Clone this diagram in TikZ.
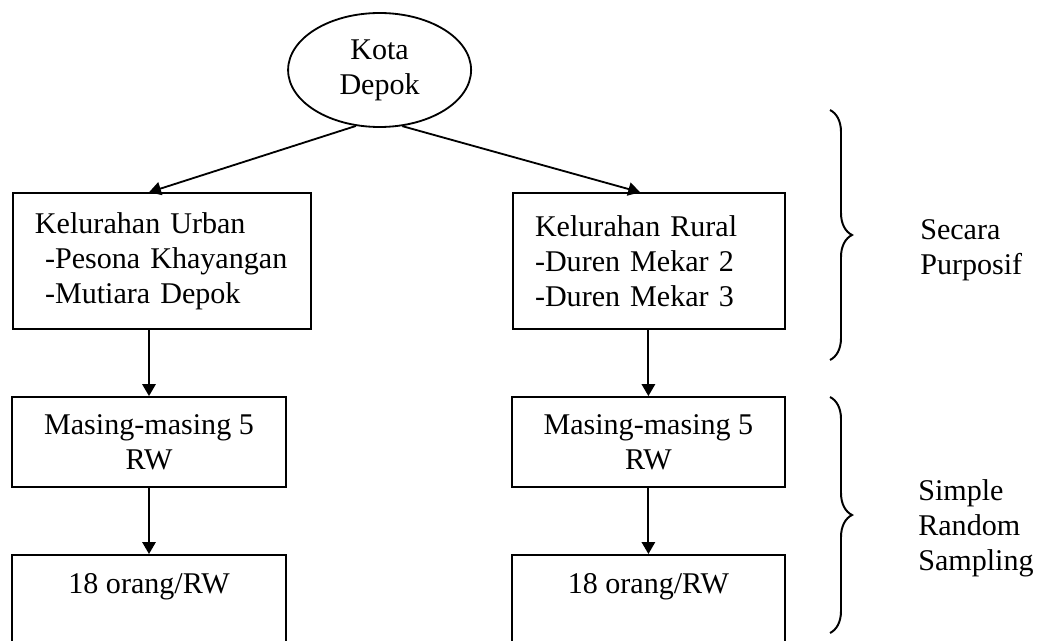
\documentclass[tikz,border=0pt]{standalone}
\usepackage{fontspec}
\setmainfont{Liberation Serif}
\usetikzlibrary{arrows.meta, shapes.geometric, decorations.pathreplacing}

\begin{document}
\begin{tikzpicture}[
    every node/.style={font=\fontsize{21.4pt}{25pt}\selectfont},
    kelbox/.style={draw, line width=1.3pt, align=left, inner xsep=0.55cm, minimum height=3.4cm},
    rwbox/.style={draw, line width=1.3pt, align=center, minimum height=2.25cm},
    arr/.style={-{Triangle[length=8.5pt, width=9.5pt]}, line width=1.3pt},
    kurung/.style={decorate, decoration={brace, amplitude=0.55cm}, line width=1.4pt}
  ]
  \useasboundingbox (0,0) rectangle (25.925,-16.025);

  \node[draw, ellipse, line width=1.3pt, inner sep=0pt, minimum width=4.575cm, minimum height=2.85cm, align=center] (kota) at (9.49,-1.75) {Kota\\Depok};

  \node[kelbox, text width=6.35cm] (urban) at (4.05,-6.53) {Kelurahan Urban\\~-Pesona Khayangan\\~-Mutiara Depok};
  \node[kelbox, text width=5.7cm] (rural) at (16.225,-6.53) {Kelurahan Rural\\-Duren Mekar 2\\-Duren Mekar 3};

  \node[rwbox, minimum width=6.85cm] (rwurban) at (3.725,-11.05) {Masing-masing 5\\RW};
  \node[rwbox, minimum width=6.825cm] (rwrural) at (16.21,-11.05) {Masing-masing 5\\RW};

  % kotak bawah terpotong di tepi halaman
  \node[draw, line width=1.3pt, anchor=north, minimum width=6.85cm, inner ysep=0.3cm, text height=0.675cm, text depth=1.5cm] (orgurban) at (3.725,-13.85) {18 orang/RW};
  \node[draw, line width=1.3pt, anchor=north, minimum width=6.825cm, inner ysep=0.3cm, text height=0.675cm, text depth=1.5cm] (orgrural) at (16.21,-13.85) {18 orang/RW};

  \draw[arr] (kota.247) -- (urban.north -| rwurban.north);
  \draw[arr] (kota.292) -- ([xshift=-0.22cm]rural.north);
  \draw[arr] (urban.south -| rwurban.north) -- (rwurban.north);
  \draw[arr] (rural.south -| rwrural.north) -- (rwrural.north);
  \draw[arr] (rwurban) -- (orgurban);
  \draw[arr] (rwrural) -- (orgrural);

  % kurung kurawal
  \coordinate (k1a) at (20.75,-2.75);
  \coordinate (k1b) at (20.75,-9.0);
  \coordinate (k2a) at (20.75,-9.925);
  \coordinate (k2b) at (20.75,-15.825);
  \draw[kurung] (k1a) -- (k1b);
  \draw[kurung] (k2a) -- (k2b);

  \node[anchor=west, align=left, inner sep=0pt] (purposif) at (23.0,-6.25) {Secara\\Purposif};
  \node[anchor=west, align=left, inner sep=0pt] (srs) at (22.95,-13.2) {Simple\\Random\\Sampling};
\end{tikzpicture}
\end{document}
